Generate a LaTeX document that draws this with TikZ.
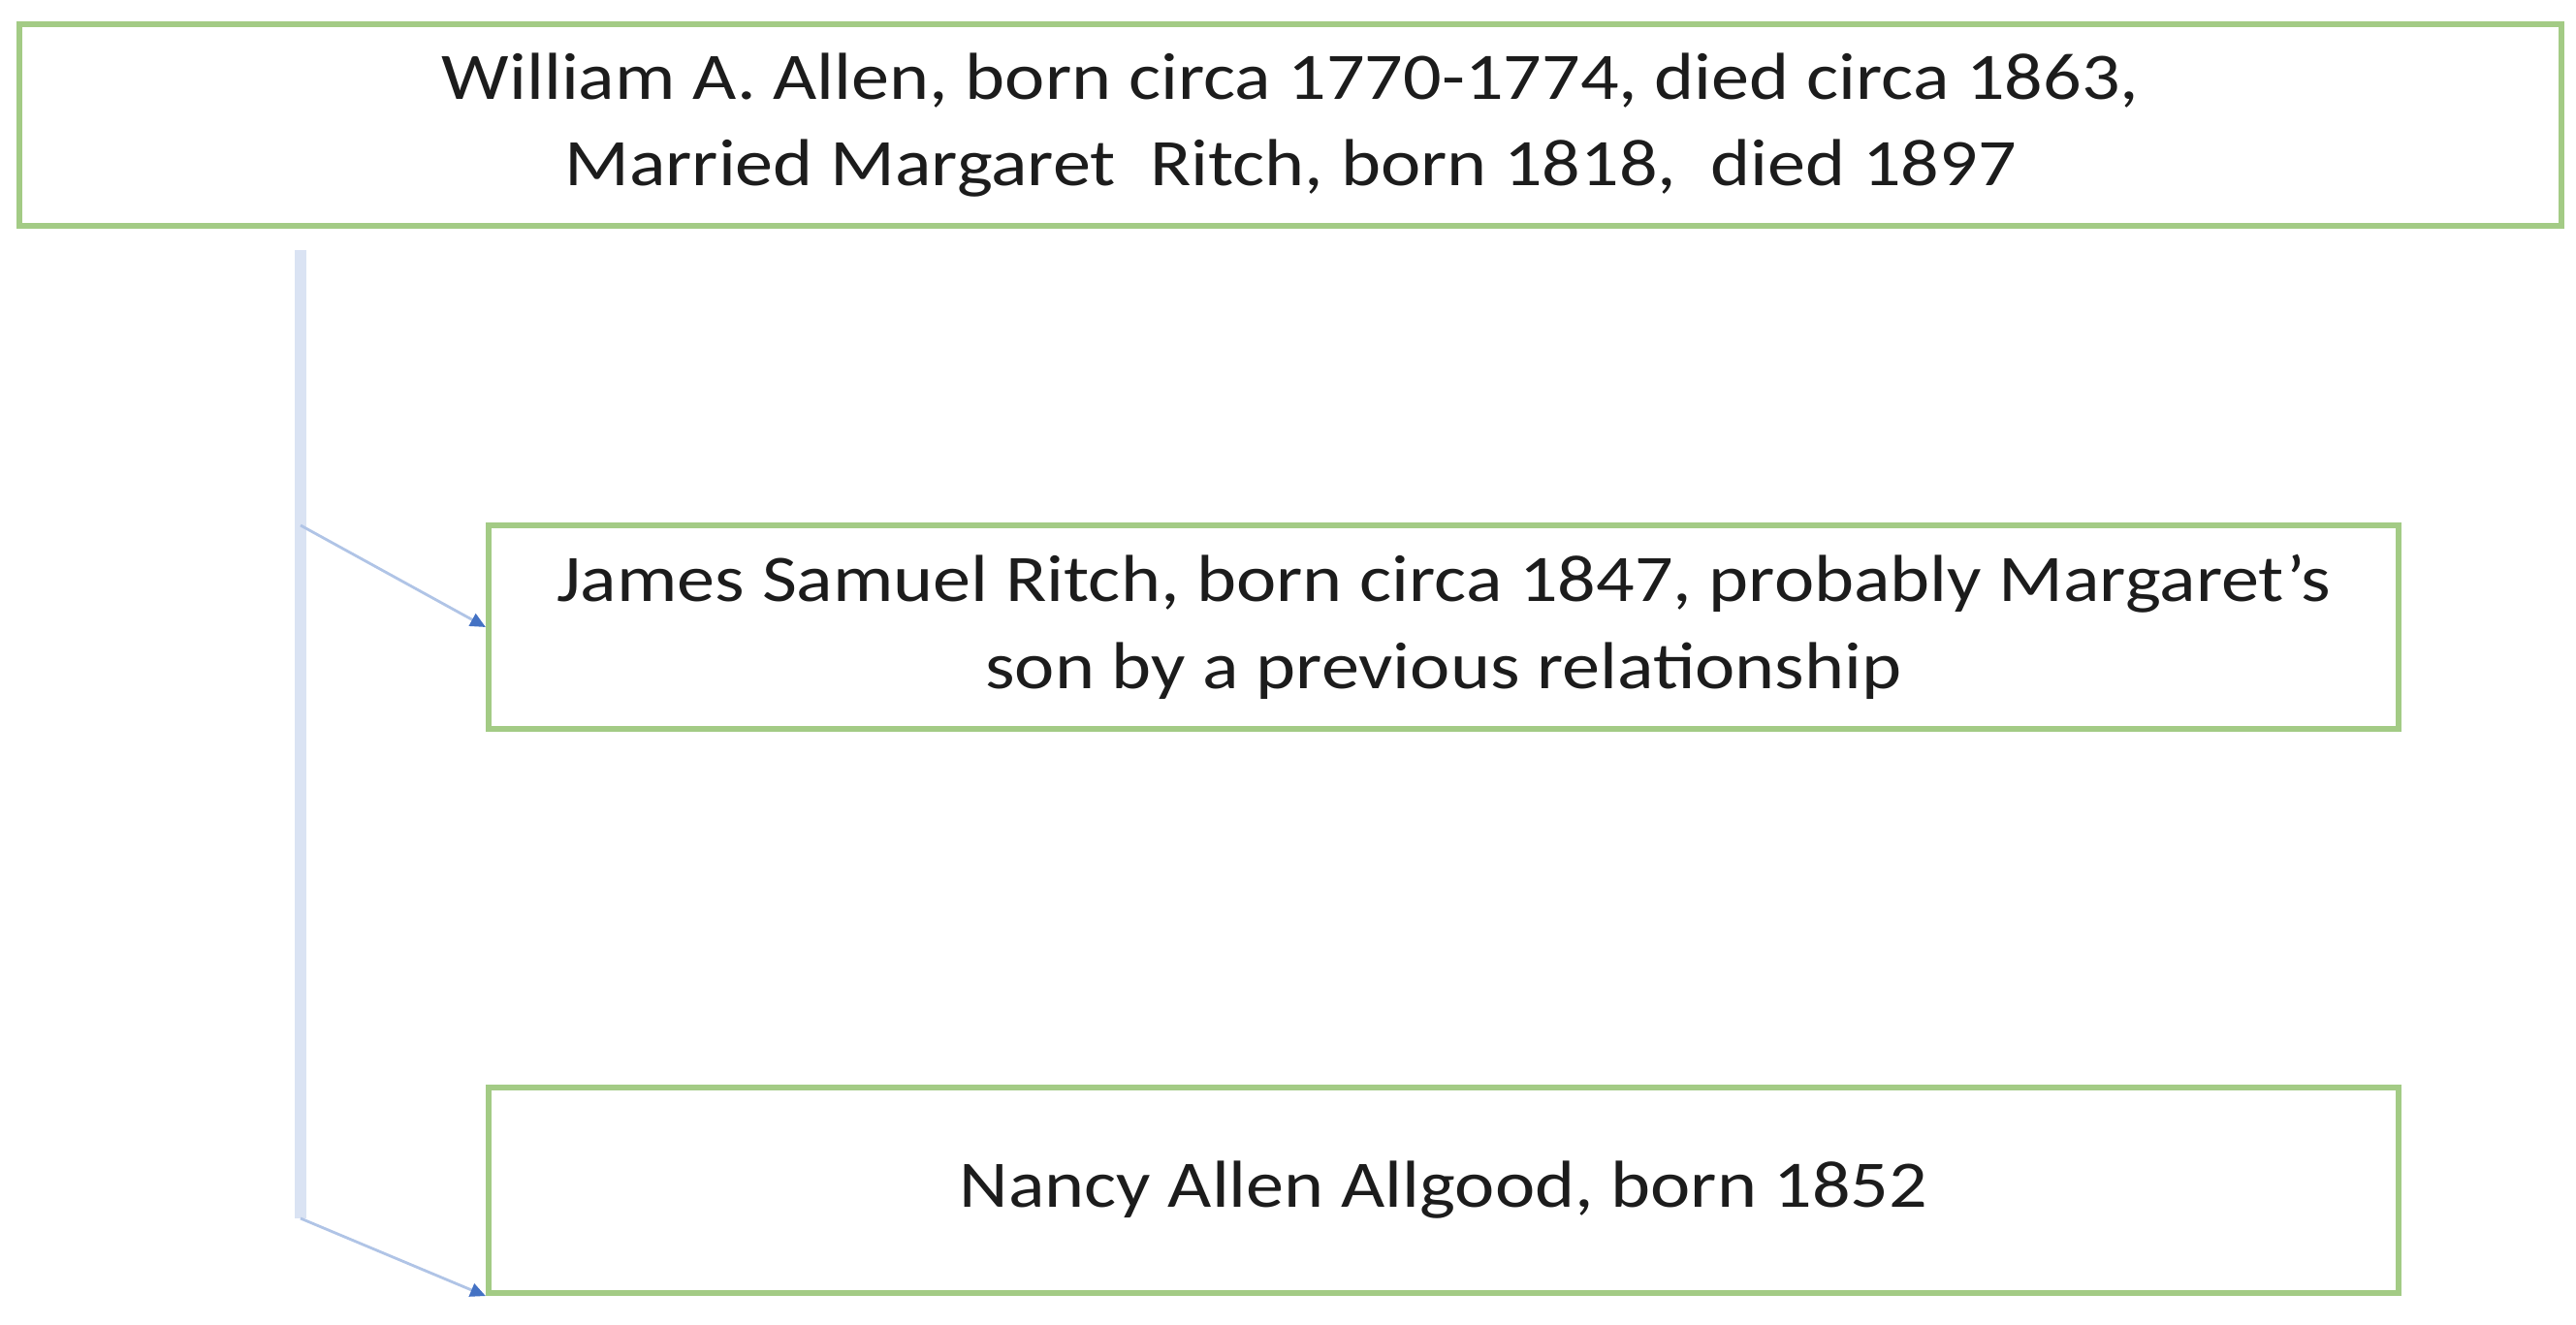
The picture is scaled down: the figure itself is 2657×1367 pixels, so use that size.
\documentclass[tikz,border=0pt]{standalone}
\usepackage{fontspec}
\setmainfont{Carlito}[FakeStretch=1.14]
\usepackage{tikz}
\usetikzlibrary{arrows.meta}
\usepackage{xcolor}
\definecolor{ColBox}{RGB}{163,203,133}
\definecolor{ColTrunk}{RGB}{218,227,243}
\definecolor{ColBranch}{RGB}{176,196,230}
\definecolor{ColTip}{RGB}{68,114,196}
\definecolor{ColText}{RGB}{28,28,28}
\tikzstyle{PersonBox}=[rectangle,draw=ColBox,line width=1.7pt,fill=white,align=center,
text=ColText,font=\fontsize{19.5}{25.5}\selectfont,inner sep=0pt]
\tikzstyle{TrunkLine}=[ColTrunk,line width=3.4pt]
\tikzstyle{BranchLine}=[ColBranch,line width=0.8pt,-{Triangle[length=4.5pt,width=4pt,color=ColTip,fill=ColTip]}]
\begin{document}
\begin{tikzpicture}[x=0.01cm,y=-0.01cm]
        \useasboundingbox(0,0)rectangle(2657,1367);
        \node[PersonBox,minimum width=26.2cm,minimum height=2.07cm](allen)at(1331,129)
            {William A. Allen, born circa 1770-1774, died circa 1863,\ \\Married Margaret\ \ Ritch, born 1818,\ \ died 1897};
        \node[PersonBox,minimum width=19.69cm,minimum height=2.1cm](james)at(1489,647)
            {James Samuel Ritch, born circa 1847, probably Margaret’s\\son by a previous relationship};
        \node[PersonBox,minimum width=19.69cm,minimum height=2.12cm](nancy)at(1489,1228)
            {Nancy Allen Allgood, born 1852};
        \coordinate(trunktop)at(310,258);
        \coordinate(fork1)at(310,542);
        \coordinate(fork2)at(310,1257);
        \draw[TrunkLine](trunktop)--(fork2);
        \draw[BranchLine](fork1)--(james.west);
        \draw[BranchLine](fork2)--(nancy.south west);
    \end{tikzpicture}
\end{document}
